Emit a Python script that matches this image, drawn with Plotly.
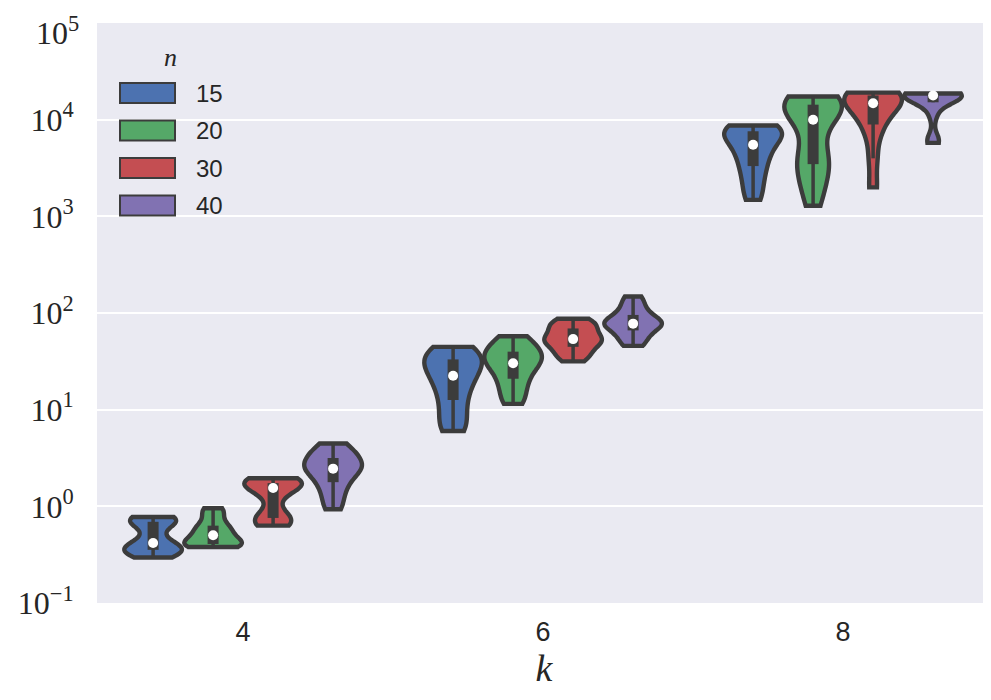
import numpy as np
import plotly.graph_objects as go

# Categories and hue levels
k_values = [4, 6, 8]
n_values = [15, 20, 30, 40]
colors = ["#4C72B0", "#55A868", "#C44E52", "#8172B2"]
y_tick_exponents = [-1, 0, 1, 2, 3, 4, 5]

# log10(runtime) samples, one list per (k, n)
k4_n15 = [-0.53, -0.50, -0.47, -0.45, -0.43, -0.41, -0.38, -0.30, -0.20, -0.16, -0.14, -0.12, -0.11]
k4_n20 = [-0.42, -0.41, -0.40, -0.38, -0.36, -0.30, -0.27, -0.22, -0.18, -0.08, -0.02]
k4_n30 = [-0.20, -0.18, -0.15, -0.12, -0.05, 0.10, 0.19, 0.21, 0.22, 0.24, 0.26, 0.28, 0.29]
k4_n40 = [-0.03, 0.08, 0.18, 0.25, 0.32, 0.37, 0.39, 0.42, 0.46, 0.50, 0.54, 0.59, 0.65]

k6_n15 = [0.78, 0.85, 0.98, 1.10, 1.20, 1.30, 1.35, 1.42, 1.48, 1.52, 1.56, 1.60, 1.65]
k6_n20 = [1.06, 1.15, 1.25, 1.32, 1.40, 1.46, 1.48, 1.53, 1.57, 1.60, 1.64, 1.70, 1.76]
k6_n30 = [1.50, 1.56, 1.60, 1.65, 1.69, 1.71, 1.73, 1.76, 1.80, 1.84, 1.87, 1.91, 1.94]
k6_n40 = [1.66, 1.72, 1.77, 1.82, 1.86, 1.88, 1.89, 1.91, 1.94, 1.98, 2.03, 2.10, 2.17]

k8_n15 = [3.17, 3.30, 3.42, 3.52, 3.60, 3.68, 3.74, 3.80, 3.85, 3.88, 3.90, 3.92, 3.94]
k8_n20 = [3.11, 3.28, 3.40, 3.50, 3.58, 3.66, 3.80, 4.00, 4.05, 4.10, 4.14, 4.17, 4.20, 4.22, 4.24]
k8_n30 = [3.30, 3.60, 3.85, 3.95, 4.05, 4.12, 4.17, 4.20, 4.23, 4.25, 4.26, 4.27, 4.28]
k8_n40 = [3.76, 3.80, 4.05, 4.18, 4.22, 4.24, 4.25, 4.25, 4.26, 4.26, 4.26, 4.27, 4.27]

samples = {
    (4, 15): k4_n15, (4, 20): k4_n20, (4, 30): k4_n30, (4, 40): k4_n40,
    (6, 15): k6_n15, (6, 20): k6_n20, (6, 30): k6_n30, (6, 40): k6_n40,
    (8, 15): k8_n15, (8, 20): k8_n20, (8, 30): k8_n30, (8, 40): k8_n40,
}

outline = "#3c3c3c"
bg = "#EAEAF2"
group_width = 0.8
hue_width = group_width / len(n_values)

fig = go.Figure()
for i, k in enumerate(k_values):
    for j, n in enumerate(n_values):
        pos = i - group_width / 2 + hue_width * (j + 0.5)
        vals = np.array(samples[(k, n)], dtype=float)
        bw = 0.7 * 1.06 * vals.std(ddof=1) * len(vals) ** (-0.2)
        fig.add_trace(go.Violin(
            x0=pos, y=vals, orientation="v", width=hue_width * 0.96,
            spanmode="hard", scalemode="width", points=False, bandwidth=bw,
            fillcolor=colors[j], opacity=1,
            line=dict(color=outline, width=4.4),
            showlegend=False, hoverinfo="skip",
        ))
        q1, med, q3 = np.percentile(vals, [25, 50, 75])
        iqr = q3 - q1
        lo = vals[vals >= q1 - 1.5 * iqr].min()
        hi = vals[vals <= q3 + 1.5 * iqr].max()
        fig.add_trace(go.Scatter(x=[pos, pos], y=[lo, hi], mode="lines",
                                 line=dict(color=outline, width=3.5),
                                 showlegend=False, hoverinfo="skip"))
        fig.add_trace(go.Scatter(x=[pos, pos], y=[q1, q3], mode="lines",
                                 line=dict(color=outline, width=11),
                                 showlegend=False, hoverinfo="skip"))
        fig.add_trace(go.Scatter(x=[pos], y=[med], mode="markers",
                                 marker=dict(color="white", size=10, line=dict(width=0)),
                                 showlegend=False, hoverinfo="skip"))

# The page body adds an 8px margin, so the figure is sized to fit the window
OFF = 8
W, H = 991 - OFF, 700 - OFF
ml, mr, mt, mb = 97 - OFF, 0, 23 - OFF, 97
pw, ph = W - ml - mr, H - mt - mb
y_min, y_max = -1, 5


def px2paper_x(px):
    # px given in window pixels
    return (px - OFF - ml) / pw


def px2paper_y(py):
    return (H - mb - (py - OFF)) / ph


def tick_label(e):
    return "10<sup>%s</sup>" % str(e).replace("-", "\u2212")


ytick_font = dict(family="Liberation Serif, DejaVu Serif", size=32, color="#262626")

shapes = []
annotations = []
for j, n in enumerate(n_values):
    cy = 93 + 37.5 * j
    shapes.append(dict(type="rect", xref="paper", yref="paper",
                       x0=px2paper_x(120), x1=px2paper_x(175),
                       y0=px2paper_y(cy + 10), y1=px2paper_y(cy - 10),
                       fillcolor=colors[j], line=dict(color=outline, width=2)))
    annotations.append(dict(xref="paper", yref="paper", x=px2paper_x(194), y=px2paper_y(cy),
                            text=str(n), showarrow=False, xanchor="left", yanchor="middle",
                            font=dict(family="Liberation Sans, Arial", size=24, color="#262626")))
annotations.append(dict(xref="paper", yref="paper", x=px2paper_x(170), y=px2paper_y(58),
                        text="<i>n</i>", showarrow=False, xanchor="center", yanchor="middle",
                        font=dict(family="Liberation Serif, DejaVu Serif", size=26, color="#262626")))

# Tick label at the very top edge is dropped by the renderer; draw it as an annotation
tick_text = []
for e in y_tick_exponents:
    if e == y_max:
        tick_text.append("")
        annotations.append(dict(xref="paper", yref="paper", x=0, y=px2paper_y(OFF + 1), xshift=-16,
                                text=tick_label(e), showarrow=False,
                                xanchor="right", yanchor="top", font=ytick_font))
    else:
        tick_text.append(tick_label(e))

fig.update_layout(
    width=W, height=H,
    margin=dict(l=ml, r=mr, t=mt, b=mb, pad=0, autoexpand=False),
    paper_bgcolor="white", plot_bgcolor=bg,
    violinmode="overlay",
    shapes=shapes, annotations=annotations,
    xaxis=dict(
        type="linear", range=[-0.487, 2.493], automargin=False,
        tickvals=list(range(len(k_values))), ticktext=[str(k) for k in k_values],
        showgrid=False, zeroline=False, showline=False,
        ticks="outside", ticklen=5, tickcolor="rgba(0,0,0,0)",
        tickfont=dict(family="Liberation Sans Narrow, Liberation Sans, Arial", size=27, color="#262626"),
        title=dict(text="<i>k</i>", standoff=2,
                   font=dict(family="Liberation Serif, DejaVu Serif", size=38, color="#262626")),
    ),
    yaxis=dict(
        type="linear", range=[y_min, y_max], automargin=False,
        tickvals=y_tick_exponents, ticktext=tick_text,
        showgrid=True, gridcolor="white", gridwidth=2,
        zeroline=False, showline=False,
        ticks="outside", ticklen=16, tickcolor="rgba(0,0,0,0)",
        tickfont=ytick_font,
    ),
)

fig.write_html("out.html")
